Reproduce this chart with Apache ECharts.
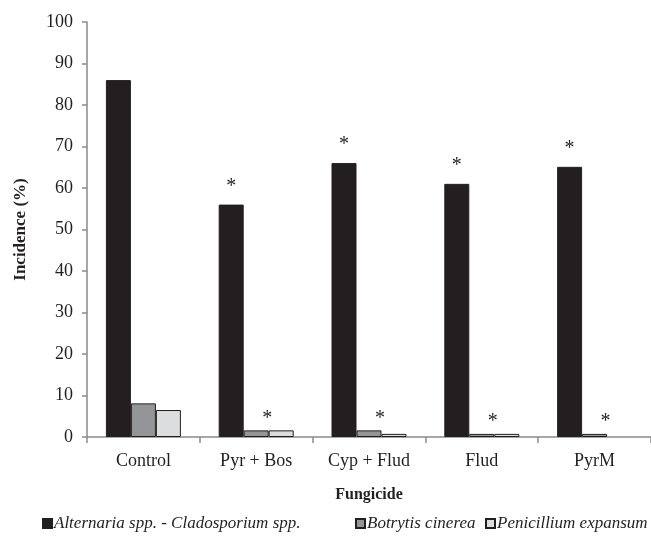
<!DOCTYPE html>
<html>
<head>
<meta charset="utf-8">
<script src="https://cdn.jsdelivr.net/npm/echarts@6/dist/echarts.min.js"></script>
<style>
html,body{margin:0;padding:0;background:#fff;}
#chart{width:651px;height:543px;}
</style>
</head>
<body>
<div id="chart"></div>
<script>
const categories = ['Control', 'Pyr + Bos', 'Cyp + Flud', 'Flud', 'PyrM'];
const seriesNames = ['Alternaria spp. - Cladosporium spp.', 'Botrytis cinerea', 'Penicillium expansum'];
const alternaria = [86, 56, 66, 61, 65.1];
const botrytis = [8.1, 1.6, 1.6, 0.75, 0.75];
const penicillium = [6.5, 1.6, 0.75, 0.75, 0];
const alternariaSig = ['', '*', '*', '*', '*'];
const minorSig = ['', '*', '*', '*', '*'];
const yTicks = { min: 0, max: 100, interval: 10 };

const FONT = 'Liberation Serif';
const TXT = '#231f20';
const AXIS = '#8a8a8a';
const border = { borderColor: '#231f20', borderWidth: 1 };
const legendLeft = [37, 350, 480];

function toData(arr) {
  return arr.map(v => v === 0 ? { value: v, itemStyle: { borderWidth: 0 } } : v);
}

const chart = echarts.init(document.getElementById('chart'), null, { renderer: 'canvas' });
chart.setOption({
  animation: false,
  backgroundColor: '#fff',
  textStyle: { fontFamily: FONT, color: TXT },
  grid: { left: 87, right: 0, top: 22, bottom: 106, containLabel: false },
  legend: seriesNames.map((n, i) => ({
    left: legendLeft[i], bottom: 6,
    itemWidth: 9, itemHeight: 9, itemGap: 6,
    icon: 'rect',
    textStyle: { fontFamily: FONT, fontSize: 17, fontStyle: 'italic', color: TXT, padding: [0, 0, 0, -3] },
    data: [n]
  })),
  xAxis: {
    type: 'category',
    data: categories,
    name: 'Fungicide',
    nameLocation: 'middle',
    nameGap: 50,
    nameTextStyle: { fontFamily: FONT, fontSize: 16, fontWeight: 'bold', color: TXT },
    axisLine: { lineStyle: { color: AXIS, width: 1.5 } },
    axisTick: { show: true, length: 6, lineStyle: { color: AXIS, width: 1.5 } },
    axisLabel: { fontFamily: FONT, fontSize: 18, color: TXT, margin: 15 },
    splitLine: { show: false }
  },
  yAxis: {
    type: 'value',
    min: yTicks.min, max: yTicks.max, interval: yTicks.interval,
    name: 'Incidence (%)',
    nameLocation: 'middle',
    nameGap: 58,
    nameRotate: 90,
    nameTextStyle: { fontFamily: FONT, fontSize: 17, fontWeight: 'bold', color: TXT },
    axisLine: { show: true, lineStyle: { color: AXIS, width: 1.5 } },
    axisTick: { show: true, length: 5, lineStyle: { color: AXIS, width: 1.5 } },
    axisLabel: { fontFamily: FONT, fontSize: 18, color: TXT, margin: 14 },
    splitLine: { show: false }
  },
  series: [
    {
      name: seriesNames[0], type: 'bar', data: toData(alternaria),
      barWidth: 25, barGap: '0%',
      itemStyle: Object.assign({ color: '#231f20' }, border),
      label: {
        show: true, position: 'top', distance: 8,
        formatter: p => alternariaSig[p.dataIndex],
        fontFamily: FONT, fontSize: 20, color: TXT
      }
    },
    {
      name: seriesNames[1], type: 'bar', data: toData(botrytis),
      barWidth: 25, barGap: '0%',
      itemStyle: Object.assign({ color: '#939598' }, border),
      label: {
        show: true, position: 'top', distance: 2, offset: [11, 0],
        formatter: p => minorSig[p.dataIndex],
        fontFamily: FONT, fontSize: 20, color: TXT
      }
    },
    {
      name: seriesNames[2], type: 'bar', data: toData(penicillium),
      barWidth: 25, barGap: '0%',
      itemStyle: Object.assign({ color: '#dcddde' }, border)
    }
  ]
});
</script>
</body>
</html>
